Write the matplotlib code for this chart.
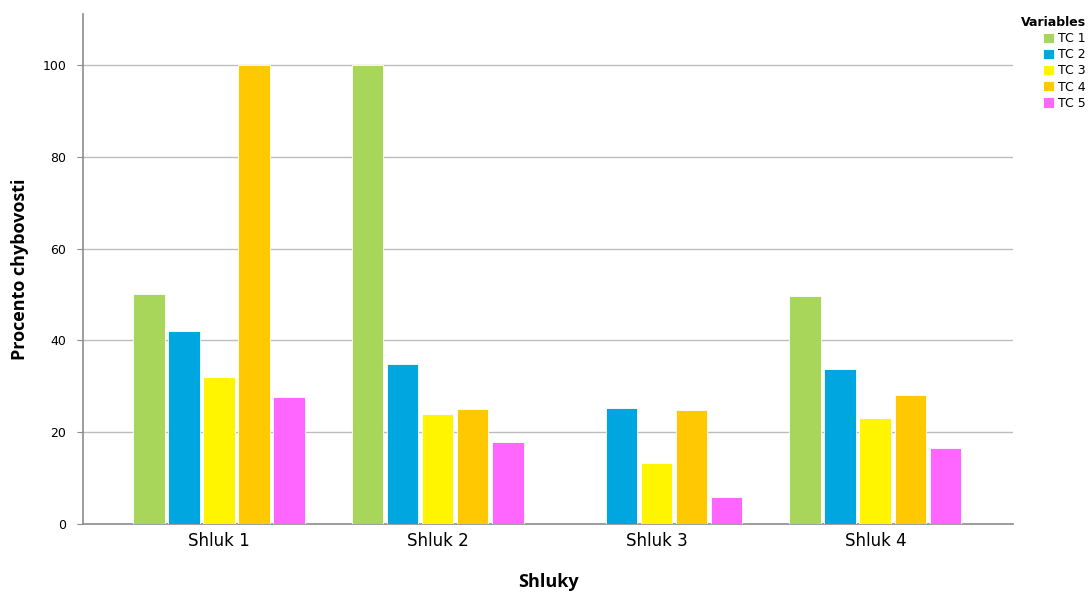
import matplotlib
matplotlib.use("Agg")
import matplotlib.pyplot as plt
import numpy as np

clusters = ["Shluk 1", "Shluk 2", "Shluk 3", "Shluk 4"]
series = ["TC 1", "TC 2", "TC 3", "TC 4", "TC 5"]
tc1 = [50.0, 100.0, 0.0, 49.6]
tc2 = [42.1, 34.8, 25.3, 33.7]
tc3 = [32.1, 24.0, 13.4, 23.1]
tc4 = [100.0, 25.0, 24.9, 28.1]
tc5 = [27.6, 17.9, 5.8, 16.6]
colors = ["#A8D65A", "#00A6E0", "#FFF500", "#FFC800", "#FF66FF"]

values = [tc1, tc2, tc3, tc4, tc5]

fig = plt.figure(figsize=(10.88, 5.94), dpi=100)
ax = fig.add_axes([0.0763, 0.1178, 0.855, 0.858])

x = np.arange(len(clusters))
step = 0.16
width = 0.145
for i, (name, vals, c) in enumerate(zip(series, values, colors)):
    pos = x + (i - 2) * step
    ax.bar(pos, vals, width=width, color=c, label=name, zorder=3,
           edgecolor="white", linewidth=0.6)

ax.set_xlim(-0.62, 3.63)
ax.set_ylim(0, 111)
ax.set_yticks([0, 20, 40, 60, 80, 100])
ax.yaxis.grid(True, color="#bdbdbd", linewidth=1.0, zorder=0)
ax.set_axisbelow(True)

for side in ("top", "right"):
    ax.spines[side].set_visible(False)
for side in ("left", "bottom"):
    ax.spines[side].set_color("#8c8c8c")
    ax.spines[side].set_linewidth(1.2)

ax.set_xticks(x)
ax.set_xticklabels(clusters, fontsize=12, family="DejaVu Sans")
ax.tick_params(axis="x", length=0, pad=6)
ax.tick_params(axis="y", length=4, color="#8c8c8c", labelsize=9, pad=8)

ax.set_ylabel("Procento chybovosti", fontsize=13, fontweight="bold",
              family="Open Sans")
ax.yaxis.set_label_coords(-0.058, 0.5)
ax.set_xlabel("Shluky", fontsize=13, fontweight="bold", family="Open Sans",
              labelpad=16)

leg = fig.legend(loc="upper right", bbox_to_anchor=(0.998, 0.973),
                 frameon=False, title="Variables", fontsize=9,
                 title_fontsize=9, handlelength=0.9, handleheight=0.9,
                 handletextpad=0.3, labelspacing=0.25, borderaxespad=0.0,
                 borderpad=0.0, alignment="right")
leg.get_title().set_fontweight("bold")

fig.savefig("out.png", dpi=100)
